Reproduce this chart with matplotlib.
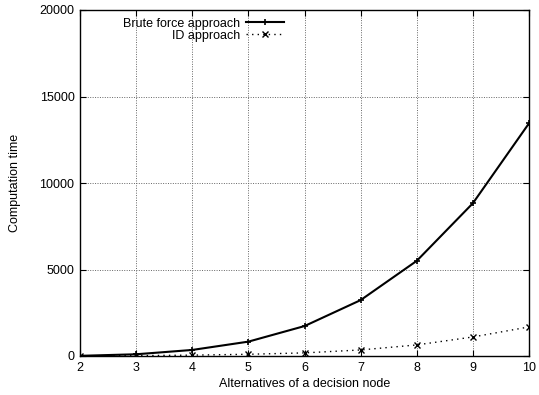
import matplotlib
matplotlib.use("Agg")
import matplotlib.pyplot as plt

plt.rcParams['font.family'] = ['Liberation Sans', 'DejaVu Sans']
plt.rcParams['font.size'] = 9

alternatives = [2, 3, 4, 5, 6, 7, 8, 9, 10]
brute_force = [10, 100, 350, 830, 1730, 3230, 5500, 8830, 13450]
id_approach = [5, 20, 50, 100, 180, 350, 640, 1100, 1680]

fig = plt.figure(figsize=(5.39, 3.95), dpi=100)
ax = fig.add_axes([80/539, 1 - 356/395, 449/539, 346/395])

ax.plot(alternatives, brute_force, color="black", lw=1.5, marker="+",
        markersize=5, mew=1.2, label="Brute force approach")
ax.plot(alternatives, id_approach, color="black", lw=1, ls=(0, (1, 3)),
        marker="x", markersize=4, mew=1, label="ID approach")

ax.set_xlim(2, 10)
ax.set_ylim(0, 20000)
ax.set_xticks(alternatives)
ax.set_yticks([0, 5000, 10000, 15000, 20000])
ax.grid(True, color="#666666", ls=(0, (1, 1.5)), lw=0.7)
ax.tick_params(direction="in", top=True, right=True, length=4, pad=4)
for s in ax.spines.values():
    s.set_linewidth(1)

ax.set_xlabel("Alternatives of a decision node", labelpad=3)
ax.set_ylabel("Computation time", labelpad=13)

leg = ax.legend(loc="upper right", bbox_to_anchor=(0.47, 1.0), frameon=False,
                markerfirst=False, handlelength=3.0, borderaxespad=0.2,
                labelspacing=0.0, handletextpad=0.5)
for t in leg.get_texts():
    t.set_ha("right")

fig.savefig("out.png", dpi=100)
